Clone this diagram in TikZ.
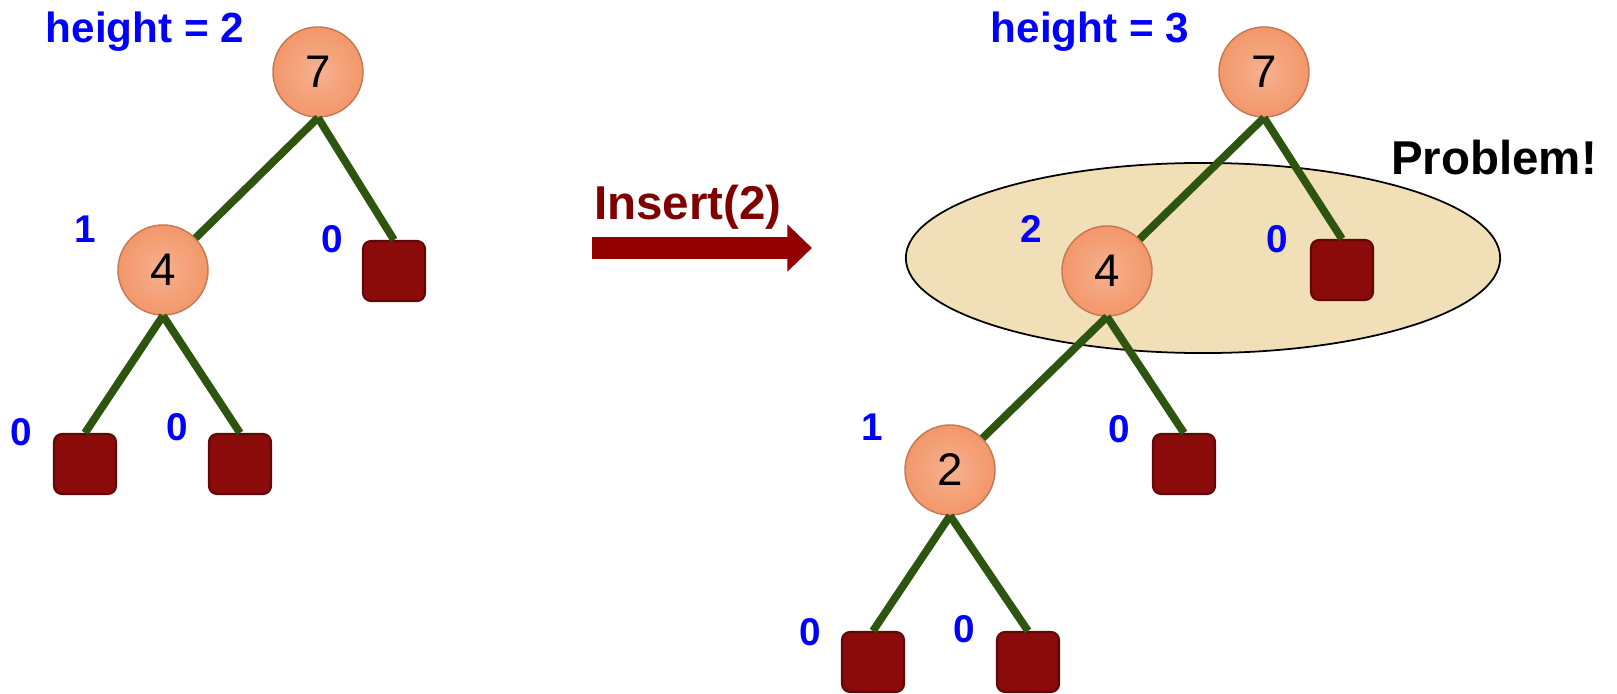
\documentclass[tikz,border=0pt]{standalone}
\usepackage{fontspec}
\setmainfont{Liberation Sans}
\usepackage{tikz}
\usetikzlibrary{arrows.meta, calc}
\definecolor{keyorange}{HTML}{F3976A}
\definecolor{leafred}{HTML}{8B0A0A}
\definecolor{edgegreen}{HTML}{2E5510}
\definecolor{zonebeige}{HTML}{F1E0B7}
\definecolor{insertred}{HTML}{800000}

\begin{document}
\begin{tikzpicture}[x=0.01cm, y=-0.01cm,
  key/.style={circle, minimum size=0.9cm, inner sep=0pt, draw=keyorange!80!black, line width=0.4pt,
    inner color=keyorange!75!white, outer color=keyorange, font=\fontsize{13}{15}\selectfont},
  leaf/.style={rectangle, rounded corners=0.08cm, minimum width=0.62cm, minimum height=0.6cm,
    fill=leafred, draw=leafred!70!black, line width=0.6pt},
  hgt/.style={anchor=base, inner sep=0pt, text=blue, font=\bfseries\fontsize{11}{13}\selectfont},
  branch/.style={draw=edgegreen, line width=2.2pt}]
  \useasboundingbox (0,0) rectangle (1617,694);

  % left tree, before the insert
  \node[hgt, font=\bfseries\fontsize{12}{14}\selectfont] (ha) at (145,43) {height = 2};
  \node[key] (a7) at (318,72) {7};
  \node[key] (a4) at (163,270) {4};
  \node[leaf] (aR) at (394,271) {};
  \node[leaf] (aLL) at (85,464) {};
  \node[leaf] (aLR) at (240,464) {};
  \draw[branch] (a7.south) -- (a4);
  \draw[branch] (a7.south) -- (aR.north);
  \draw[branch] (a4.south) -- (aLL.north);
  \draw[branch] (a4.south) -- (aLR.north);
  \node[hgt] (ha4) at (85,242) {1};
  \node[hgt] (haR) at (332,252) {0};
  \node[hgt] (haLL) at (21,445) {0};
  \node[hgt] (haLR) at (177,440) {0};

  % insert arrow
  \coordinate (ins-s) at (592,248);
  \coordinate (ins-e) at (812,248);
  \draw[insertred!85!red, line width=6.5pt, -{Triangle[length=7pt, width=13pt]}] (ins-s) -- (ins-e);
  \node[anchor=base, inner sep=0pt, text=insertred, font=\bfseries\fontsize{13.5}{16}\selectfont] (ins) at (688,219) {Insert(2)};

  % right tree, after the insert
  \draw[fill=zonebeige, draw=black, line width=0.5pt] (1203,258) ellipse [x radius=2.97cm, y radius=0.95cm];
  \node[anchor=base, inner sep=0pt, font=\bfseries\fontsize{13.5}{16}\selectfont] (prob) at (1494,174) {Problem!};
  \node[hgt, font=\bfseries\fontsize{12}{14}\selectfont] (hb) at (1090,42) {height = 3};
  \node[key] (b7) at (1264,72) {7};
  \node[key] (b4) at (1107,271) {4};
  \node[leaf] (bR) at (1342,270) {};
  \node[key] (b2) at (950,470) {2};
  \node[leaf] (b4R) at (1184,464) {};
  \node[leaf] (b2L) at (873,662) {};
  \node[leaf] (b2R) at (1028,662) {};
  \draw[branch] (b7.south) -- (b4);
  \draw[branch] (b7.south) -- (bR.north);
  \draw[branch] (b4.south) -- (b2);
  \draw[branch] (b4.south) -- (b4R.north);
  \draw[branch] (b2.south) -- (b2L.north);
  \draw[branch] (b2.south) -- (b2R.north);
  \node[hgt] (hb4) at (1031,242) {2};
  \node[hgt] (hbR) at (1277,252) {0};
  \node[hgt] (hb2) at (872,440) {1};
  \node[hgt] (hb4R) at (1119,442) {0};
  \node[hgt] (hb2L) at (810,645) {0};
  \node[hgt] (hb2R) at (964,642) {0};
\end{tikzpicture}
\end{document}
